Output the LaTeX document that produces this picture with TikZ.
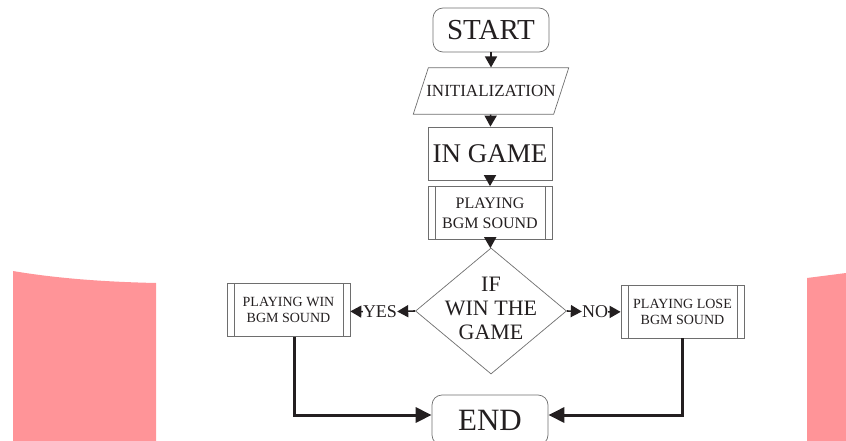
\documentclass[tikz,border=0pt]{standalone}
\usepackage{fontspec}
\setmainfont{Liberation Serif}
\usetikzlibrary{shapes.geometric,arrows.meta}
\definecolor{inkc}{HTML}{231F20}
\definecolor{framec}{HTML}{6E6E6E}
\definecolor{pinkc}{RGB}{255,148,152}
\begin{document}
\begin{tikzpicture}
    [x=1pt, y=-1pt,
    every node/.style={text=inkc, inner sep=0pt, align=center},
    frame/.style={draw=framec, line width=.7pt},
    terminal/.style={frame, rounded corners=10pt, minimum width=116pt,
      font=\fontsize{29}{32}\selectfont},
    io/.style={frame, trapezium, trapezium left angle=72,
      trapezium right angle=108, inner xsep=-2pt, inner ysep=17.5pt,
      font=\fontsize{17}{20}\selectfont},
    process/.style={frame, minimum width=124pt, minimum height=53pt,
      font=\fontsize{27}{30}\selectfont},
    subproc/.style={frame, minimum width=123pt, minimum height=53pt,
      path picture={
        \draw[framec, line width=.7pt]
          ([xshift=7pt]path picture bounding box.north west) --
          ([xshift=7pt]path picture bounding box.south west)
          ([xshift=-7pt]path picture bounding box.north east) --
          ([xshift=-7pt]path picture bounding box.south east);}},
    decision/.style={frame, diamond, minimum width=151pt, minimum height=126pt},
    answer/.style={font=\fontsize{18}{20}\selectfont},
    flow/.style={draw=inkc, line width=1.6pt, -{Triangle[length=11pt,width=12pt]}},
    bigflow/.style={draw=inkc, line width=3pt, -{Triangle[length=16pt,width=15pt]}},
    ]
    \useasboundingbox (0,0) rectangle (846,441);
    % pink pieces at the sides
    \fill[pinkc] (13,441) -- (13,271) .. controls (60,279) and (110,282) .. (156,283)
      -- (156,441) -- cycle;
    \fill[pinkc] (807,441) -- (807,278) -- (846,273) -- (846,441) -- cycle;

    \node[terminal, minimum height=44pt] (start) at (491,30) {START};
    \node[io] (init) at (491,91) {INITIALIZATION};
    \node[process] (ingame) at (490,153.5) {IN GAME};
    \node[subproc, minimum width=124pt, font=\fontsize{16}{20}\selectfont]
      (bgm) at (490,213) {PLAYING\\BGM SOUND};
    \node[decision] (decide) at (491,311) {};
    \node[font=\fontsize{22}{24}\selectfont] (decidetxt) at (491,308) {IF\\WIN THE\\GAME};
    \node[answer] (yes) at (380,312) {YES};
    \node[answer] (no) at (595,312) {NO};
    \node[subproc, font=\fontsize{14}{16}\selectfont]
      (pwin) at (288.5,310) {PLAYING WIN\\BGM SOUND};
    \node[subproc, font=\fontsize{14}{16}\selectfont]
      (plose) at (682.5,311.5) {PLAYING LOSE\\BGM SOUND};
    \node[terminal, minimum height=50pt, font=\fontsize{31}{34}\selectfont]
      (endn) at (490,420) {END};

    \draw[flow] (start) -- (init);
    \draw[flow] (init) -- (ingame);
    \draw[flow] (ingame) -- (bgm);
    \draw[flow] (bgm) -- (decide);
    \draw[flow] (decide.west) -- (yes);
    \draw[flow] (yes) -- (pwin);
    \draw[flow] (decide.east) -- (no);
    \draw[flow] (no) -- (plose);
    \draw[bigflow] ([xshift=6pt]pwin.south) |- ([yshift=5pt]endn.west);
    \draw[bigflow] (plose.south) |- ([yshift=5pt]endn.east);
  \end{tikzpicture}
\end{document}
